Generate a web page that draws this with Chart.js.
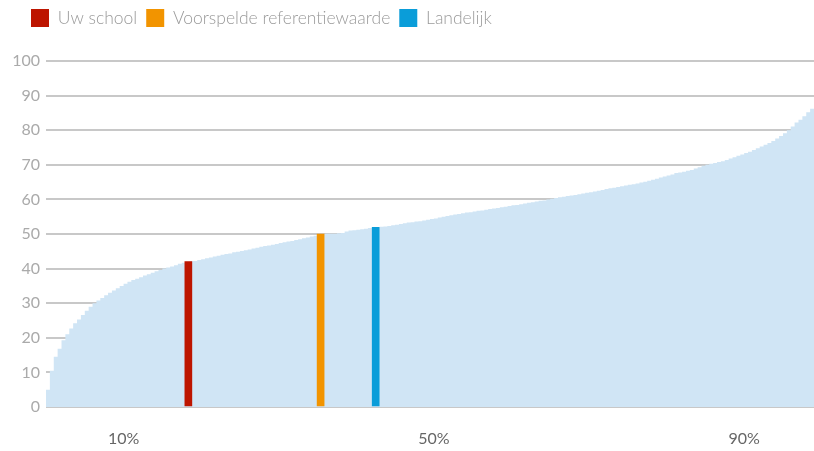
<!DOCTYPE html>
<html>
<head>
<meta charset="utf-8">
<script src="https://cdn.jsdelivr.net/npm/chart.js@4.4.1/dist/chart.umd.min.js"></script>
<style>
  html, body { margin: 0; padding: 0; background: #fff; }
  #wrap { width: 814px; height: 451px; }
</style>
</head>
<body>
<div id="wrap"><canvas id="chart"></canvas></div>
<script>
// sorted scores of all schools, one value per half percentile (0 .. 99)
const scores = [
  5, 10.5, 14.5, 16.8, 19.3, 21, 22.7, 24.2, 25.3, 26.6,
  27.8, 29, 30, 30.8, 31.5, 32.3, 33, 33.7, 34.3, 35,
  35.6, 36.2, 36.7, 37.1, 37.5, 38, 38.4, 38.8, 39.2, 39.6,
  40, 40.3, 40.6, 41, 41.4, 41.7, 42, 42.1, 42.2, 42.5,
  42.7, 43, 43.2, 43.5, 43.7, 44, 44.2, 44.4, 44.7, 44.9,
  45.1, 45.3, 45.5, 45.8, 46, 46.3, 46.5, 46.7, 46.9, 47.1,
  47.4, 47.6, 47.8, 48, 48.3, 48.5, 48.8, 49, 49.3, 49.5,
  49.8, 50, 50.1, 50.1, 50.1, 50.2, 50.3, 50.7, 51, 51.1,
  51.2, 51.4, 51.5, 51.7, 51.8, 51.9, 52.1, 52.2, 52.3, 52.5,
  52.7, 52.9, 53.1, 53.3, 53.4, 53.6, 53.7, 53.9, 54.1, 54.3,
  54.5, 54.8, 55, 55.2, 55.4, 55.6, 55.8, 56, 56.2, 56.3,
  56.5, 56.7, 56.8, 57, 57.2, 57.4, 57.5, 57.7, 57.9, 58.1,
  58.3, 58.4, 58.6, 58.8, 59, 59.2, 59.4, 59.6, 59.7, 60,
  60.2, 60.4, 60.6, 60.8, 61, 61.1, 61.3, 61.5, 61.7, 61.9,
  62.1, 62.3, 62.5, 62.7, 63, 63.2, 63.4, 63.6, 63.8, 64,
  64.2, 64.4, 64.6, 64.9, 65.1, 65.4, 65.7, 66, 66.3, 66.6,
  66.9, 67.2, 67.6, 67.8, 68, 68.3, 68.5, 68.9, 69.3, 69.7,
  70, 70.3, 70.5, 70.8, 71, 71.4, 71.8, 72.2, 72.6, 73,
  73.4, 73.8, 74.3, 74.8, 75.3, 75.8, 76.3, 76.9, 77.6, 78.3,
  79.1, 80, 81.1, 82.2, 83, 84, 85.2, 86.2, 87.3
];
const percentiles = scores.map((_, i) => i / 2);

// markers: [percentile, score]
const seriesNames = ["Uw school", "Voorspelde referentiewaarde", "Landelijk"];
const markerPercentiles = [18.35, 35.4, 42.5];
const markerScores = [42, 50, 51.9];
const markerColors = ["#bd1500", "#f29400", "#0a9dd9"];

const xTicks = [10, 50, 90];
const yMax = 100;

const markerSets = seriesNames.map((name, i) => ({
  type: "bar",
  label: name,
  data: [{ x: markerPercentiles[i], y: markerScores[i] }],
  backgroundColor: markerColors[i],
  borderWidth: 0,
  barThickness: 7,
  grouped: false,
  order: 0
}));

new Chart(document.getElementById("chart"), {
  type: "line",
  data: {
    datasets: [
      ...markerSets,
      {
        label: "verdeling",
        data: percentiles.map((p, i) => ({ x: p, y: scores[i] })),
        stepped: "before",
        fill: "origin",
        backgroundColor: "#d0e5f5",
        borderColor: "rgba(0,0,0,0)",
        borderWidth: 0,
        pointRadius: 0,
        order: 1
      }
    ]
  },
  plugins: [{
    id: "legendLayout",
    beforeInit(chart) {
      // push the plot down under the legend and move the legend a bit right
      const fit = chart.legend.fit;
      chart.legend.fit = function () {
        fit.call(this);
        this.height = 61;
      };
    },
    afterLayout(chart) {
      chart.legend.left += 22;
    }
  }],
  options: {
    responsive: true,
    maintainAspectRatio: false,
    animation: false,
    events: [],
    plugins: {
      tooltip: { enabled: false },
      legend: {
        position: "top",
        align: "start",
        labels: {
          filter: item => item.datasetIndex < seriesNames.length,
          boxWidth: 18,
          boxHeight: 18,
          padding: 9,
          color: "#9a9a9a",
          font: { family: "Lato", size: 17.5, weight: "300" }
        }
      }
    },
    scales: {
      x: {
        type: "linear",
        min: 0,
        max: 99,
        offset: false,
        grid: { display: false, drawTicks: false },
        border: { display: false },
        afterBuildTicks: axis => { axis.ticks = xTicks.map(v => ({ value: v })); },
        afterFit: axis => { axis.height = 44; },
        ticks: {
          padding: 22,
          color: "#666",
          font: { family: "Lato", size: 16 },
          callback: v => v + "%",
          maxRotation: 0
        }
      },
      y: {
        min: 0,
        max: yMax,
        grid: { color: "#c8c8c8", lineWidth: 2, drawTicks: false },
        border: { display: false },
        afterFit: axis => { axis.width = 46; },
        ticks: {
          stepSize: 10,
          padding: 6,
          color: "#aaa",
          font: { family: "Lato", size: 16 }
        }
      }
    }
  }
});
</script>
</body>
</html>
